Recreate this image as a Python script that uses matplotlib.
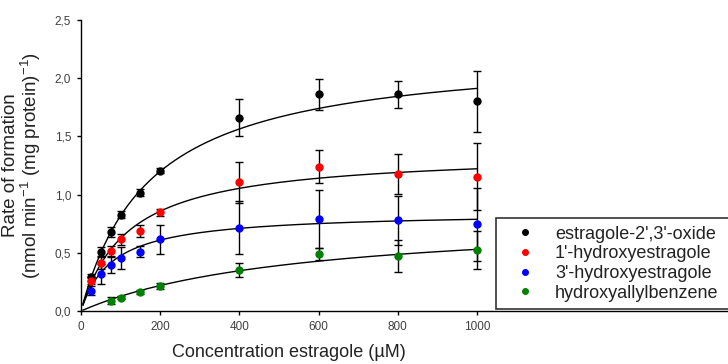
import numpy as np
import matplotlib
matplotlib.use('Agg')
import matplotlib.pyplot as plt

plt.rcParams['font.family'] = ['Liberation Sans', 'DejaVu Sans']
plt.rcParams['mathtext.fontset'] = 'custom'
plt.rcParams['mathtext.rm'] = 'Liberation Sans'
plt.rcParams['mathtext.it'] = 'Liberation Sans:italic'

conc = [25, 50, 75, 100, 150, 200, 400, 600, 800, 1000]
oxide = [0.29, 0.51, 0.68, 0.825, 1.015, 1.205, 1.66, 1.86, 1.86, 1.80]
oxide_err = [0.03, 0.04, 0.04, 0.03, 0.03, 0.02, 0.16, 0.13, 0.115, 0.26]
hydroxy1 = [0.26, 0.41, 0.515, 0.615, 0.69, 0.848, 1.105, 1.24, 1.177, 1.154]
hydroxy1_err = [0.03, 0.05, 0.04, 0.05, 0.05, 0.03, 0.175, 0.14, 0.175, 0.29]
hydroxy3 = [0.175, 0.32, 0.395, 0.452, 0.51, 0.616, 0.716, 0.79, 0.78, 0.745]
hydroxy3_err = [0.04, 0.085, 0.07, 0.095, 0.05, 0.125, 0.23, 0.25, 0.21, 0.315]
conc_allyl = [75, 100, 150, 200, 400, 600, 800, 1000]
allyl = [0.088, 0.114, 0.163, 0.217, 0.352, 0.487, 0.472, 0.524]
allyl_err = [0.03, 0.015, 0.015, 0.025, 0.06, 0.05, 0.14, 0.163]

# Michaelis-Menten-Parameter der Kurven (Vmax, Km)
vmax = [2.246, 1.367, 0.850, 0.821]
km = [174.4, 118.9, 79.0, 549.6]

labels = ["estragole-2',3'-oxide", "1'-hydroxyestragole",
          "3'-hydroxyestragole", "hydroxyallylbenzene"]
colors = ['black', 'red', 'blue', 'green']

fig = plt.figure(figsize=(7.28, 3.64), dpi=100)
ax = fig.add_axes([81 / 728, 53 / 364, 647 / 728, 291 / 364])

x_fit = np.linspace(5, 1000, 300)
for i in range(4):
    ax.plot(x_fit, vmax[i] * x_fit / (km[i] + x_fit), color='black', lw=1.0, zorder=2)

series = [(conc, oxide, oxide_err), (conc, hydroxy1, hydroxy1_err),
          (conc, hydroxy3, hydroxy3_err), (conc_allyl, allyl, allyl_err)]
for (xs, ys, es), c, lab in zip(series, colors, labels):
    ax.errorbar(xs, ys, yerr=es, fmt='none', ecolor='black', elinewidth=1.0,
                capsize=2.6, capthick=1.0, zorder=3)
    ax.plot(xs, ys, 'o', color=c, ms=5, mec=c, zorder=4, label=lab)

ax.set_xlim(0, 1634)
ax.set_ylim(0, 2.5)
ax.set_xticks([0, 200, 400, 600, 800, 1000])
ax.set_yticks([0, 0.5, 1.0, 1.5, 2.0, 2.5])
ax.set_yticklabels(['0,0', '0,5', '1,0', '1,5', '2,0', '2,5'])
ax.tick_params(labelsize=8.5, labelcolor='#404040', length=3, width=1, pad=4)
ax.spines['top'].set_visible(False)
ax.spines['right'].set_visible(False)
ax.spines['left'].set_linewidth(1.0)
ax.spines['bottom'].set_linewidth(1.0)

ax.set_xlabel('Concentration estragole (µM)', fontsize=13, color='#222222')
ax.xaxis.set_label_coords(0.3215, -0.115)
ax.set_ylabel('Rate of formation\n(nmol min$^{-1}$ (mg protein)$^{-1}$)',
              fontsize=13.5, color='#222222', va='center', linespacing=1.0)
ax.yaxis.set_label_coords(-0.0904, 0.5)

# Legende ragt rechts über den Bildrand hinaus (wie im Original)
leg = ax.legend(loc='lower left', bbox_to_anchor=(495.7 / 728, 55 / 364, 250 / 728, 0.2),
                bbox_transform=fig.transFigure, mode='expand', fontsize=13,
                frameon=True, fancybox=False, edgecolor='black', handletextpad=0.44,
                markerscale=0.8, labelspacing=0.15, borderpad=0.4,
                handlelength=2.45, borderaxespad=0)
leg.get_frame().set_linewidth(1.2)
for t in leg.get_texts():
    t.set_color('#222222')

fig.savefig('out.png', dpi=100)
